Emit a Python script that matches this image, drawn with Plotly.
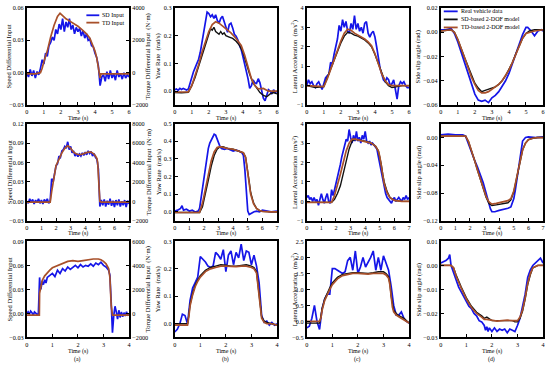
import numpy as np
import plotly.graph_objects as go

# ---------------- DATA ----------------
# Row 1 (0-6 s)
t_r1 = np.round(np.arange(0, 6.001, 0.1), 2)
a1_sd = [0.000, -0.004, 0.003, -0.003, 0.002, -0.005, 0.001, -0.002, 0.004, 0.012,
         0.008, 0.018, 0.015, 0.025, 0.028, 0.033, 0.030, 0.040, 0.036, 0.045,
         0.040, 0.050, 0.038, 0.047, 0.042, 0.050, 0.040, 0.044, 0.036, 0.042,
         0.038, 0.041, 0.034, 0.039, 0.032, 0.036, 0.030, 0.031, 0.025, 0.024,
         0.018, 0.014, 0.006, -0.012, -0.004, -0.002, -0.008, 0.001, -0.006, 0.002,
         -0.005, -0.001, -0.007, 0.002, -0.004, -0.001, -0.006, 0.000, -0.005, -0.002, -0.004]
t_a1_td = [0, 0.5, 0.8, 0.9, 1.0, 1.2, 1.4, 1.6, 1.8, 1.95, 2.1, 2.3, 2.5, 2.8, 3.0, 3.3, 3.5, 3.7,
           3.8, 3.9, 4.0, 4.1, 4.2, 4.25, 4.3, 4.35, 4.5, 5.0, 5.5, 6.0]
a1_td = [-70, -70, 0, 270, 670, 1330, 2200, 2930, 3470, 3670, 3530, 3330, 3200, 3000, 2870, 2600,
         2400, 2130, 1870, 1600, 1330, 930, 400, 0, -330, -70, -70, -70, -70, -70]

b1_real = [0.005, 0.008, 0.003, 0.010, 0.006, 0.010, 0.007, 0.004, 0.008, 0.030,
           0.050, 0.070, 0.085, 0.100, 0.115, 0.140, 0.175, 0.215, 0.255, 0.285,
           0.280, 0.268, 0.275, 0.262, 0.275, 0.255, 0.245, 0.262, 0.270, 0.248,
           0.228, 0.212, 0.240, 0.245, 0.228, 0.205, 0.198, 0.185, 0.165, 0.150,
           0.125, 0.100, 0.075, 0.045, 0.010, 0.020, 0.040, 0.030, 0.028, 0.045,
           0.030, 0.000, -0.025, -0.035, -0.015, 0.005, 0.000, -0.010, 0.005, -0.005, 0.000]
t_b1_sd = [0, 0.4, 0.8, 1.0, 1.2, 1.4, 1.6, 1.8, 2.0, 2.1, 2.2, 2.3, 2.4, 2.5, 2.6, 2.7, 2.8, 2.9,
           3.0, 3.2, 3.4, 3.6, 3.8, 4.0, 4.2, 4.4, 4.6, 4.8, 5.0, 5.2, 5.4, 5.6, 5.8, 6.0]
b1_sd = [-0.005, -0.006, -0.004, 0.02, 0.05, 0.09, 0.13, 0.17, 0.205, 0.225, 0.22, 0.23, 0.215,
         0.21, 0.205, 0.215, 0.205, 0.21, 0.20, 0.195, 0.19, 0.18, 0.165, 0.14, 0.10, 0.06, 0.03,
         0.01, -0.005, -0.015, -0.02, -0.01, -0.005, -0.01]
t_b1_td = [0, 0.8, 1.0, 1.2, 1.4, 1.6, 1.8, 2.0, 2.2, 2.4, 2.6, 2.8, 3.0, 3.3, 3.6, 3.9, 4.1, 4.3,
           4.5, 4.7, 4.9, 5.2, 5.5, 6.0]
b1_td = [-0.003, -0.003, 0.02, 0.055, 0.095, 0.14, 0.18, 0.215, 0.24, 0.25, 0.245, 0.235, 0.225,
         0.21, 0.19, 0.165, 0.13, 0.085, 0.045, 0.02, 0.008, 0.01, 0.0, 0.0]

c1_real = [0.0, 0.3, 0.1, 0.2, 0.0, -0.1, 0.1, 0.2, 0.0, -0.2,
           0.1, 0.4, 0.5, 0.6, 1.2, 1.1, 1.6, 2.0, 2.4, 3.1,
           2.8, 3.4, 3.0, 3.3, 2.8, 2.7, 3.2, 2.9, 3.6, 2.9,
           3.2, 2.8, 3.0, 2.7, 3.2, 3.3, 2.7, 2.5, 2.7, 2.8,
           2.5, 2.0, 1.4, 0.9, 0.6, 0.3, 0.2, 0.4, 0.3, 0.0,
           0.1, 0.3, -0.2, -0.7, 0.0, 0.2, 0.1, 0.2, 0.0, -0.1, -0.1]
t_c1_sd = [0, 0.5, 1.0, 1.2, 1.4, 1.6, 1.8, 2.0, 2.2, 2.4, 2.6, 2.8, 3.0, 3.2, 3.4, 3.6, 3.8, 4.0,
           4.2, 4.4, 4.6, 4.8, 5.0, 5.3, 5.6, 6.0]
c1_sd = [0.0, -0.1, -0.05, 0.4, 0.8, 1.3, 1.8, 2.2, 2.55, 2.75, 2.7, 2.6, 2.55, 2.45, 2.35, 2.2,
         2.0, 1.6, 1.1, 0.6, 0.2, 0.0, -0.1, -0.05, 0.0, 0.0]
t_c1_td = [0, 1.0, 1.2, 1.4, 1.6, 1.8, 2.0, 2.2, 2.4, 2.6, 2.8, 3.0, 3.2, 3.4, 3.6, 3.8, 4.0, 4.2,
           4.4, 4.6, 4.8, 5.0, 5.5, 6.0]
c1_td = [0.0, -0.05, 0.35, 0.8, 1.3, 1.8, 2.3, 2.7, 2.9, 2.85, 2.7, 2.6, 2.5, 2.4, 2.25, 2.05,
         1.65, 1.15, 0.6, 0.25, 0.05, 0.0, 0.0, 0.0]

t_d1_real = [0, 0.3, 0.6, 0.8, 1.0, 1.2, 1.4, 1.6, 1.8, 2.0, 2.2, 2.4, 2.6, 2.8, 3.0, 3.2, 3.4,
             3.6, 3.8, 4.0, 4.2, 4.4, 4.6, 4.8, 5.0, 5.1, 5.3, 5.5, 5.7, 5.9, 6.0]
d1_real = [0.002, 0.002, 0.003, -0.001, -0.008, -0.017, -0.026, -0.035, -0.044, -0.051, -0.056,
           -0.057, -0.056, -0.058, -0.054, -0.052, -0.049, -0.045, -0.040, -0.034, -0.026, -0.018,
           -0.010, -0.002, 0.004, 0.004, 0.001, -0.003, 0.001, 0.002, 0.001]
t_d1_model = [0, 0.6, 0.8, 1.0, 1.4, 1.8, 2.0, 2.2, 2.4, 2.6, 2.8, 3.0, 3.2, 3.4, 3.6, 3.8, 4.0,
              4.2, 4.4, 4.6, 4.8, 5.0, 5.2, 5.5, 6.0]
d1_sd = [0.001, 0.002, 0.0, -0.006, -0.021, -0.036, -0.042, -0.046, -0.049, -0.048, -0.047,
         -0.046, -0.045, -0.043, -0.040, -0.036, -0.031, -0.025, -0.018, -0.011, -0.005, -0.001,
         0.001, 0.002, 0.002]
d1_td = [0.001, 0.002, 0.0, -0.006, -0.021, -0.037, -0.043, -0.048, -0.050, -0.050, -0.049,
         -0.047, -0.045, -0.043, -0.040, -0.036, -0.031, -0.025, -0.018, -0.011, -0.005, -0.001,
         0.0, 0.001, 0.002]

# Row 2 (0-7 s)
t_r2 = np.round(np.arange(0, 7.001, 0.1), 2)
a2_sd = [0.000, -0.003, 0.004, -0.002, 0.003, -0.004, 0.002, -0.002, 0.004, -0.003,
         0.002, -0.004, 0.003, -0.002, 0.004, -0.003, 0.001, 0.035, 0.030, 0.045,
         0.055, 0.058, 0.070, 0.068, 0.078, 0.080, 0.085, 0.082, 0.092, 0.080,
         0.085, 0.075, 0.078, 0.070, 0.074, 0.069, 0.073, 0.070, 0.075, 0.071,
         0.076, 0.072, 0.078, 0.074, 0.077, 0.070, 0.074, 0.068, 0.065, 0.050,
         -0.008, 0.002, -0.006, 0.003, -0.008, 0.001, -0.005, 0.004, -0.007, 0.001,
         -0.009, 0.002, -0.006, 0.003, -0.008, 0.000, -0.006, 0.002, -0.009, 0.001, -0.004]
t_a2_td = [0, 1.6, 1.7, 1.8, 1.9, 2.0, 2.2, 2.4, 2.6, 2.8, 3.0, 3.2, 3.4, 3.6, 3.8, 4.0, 4.2, 4.4,
           4.6, 4.7, 4.8, 4.85, 4.9, 4.95, 5.0, 5.1, 6.0, 7.0]
a2_td = [-70, -70, 1000, 2000, 3000, 3670, 4330, 5000, 5470, 5730, 5470, 5070, 4870, 4800, 4870,
         5000, 5070, 5070, 4870, 4670, 4400, 4000, 2670, 1000, 0, -70, -70, -70]

t_b2_real = [0, 0.2, 0.4, 0.5, 0.6, 0.8, 1.0, 1.2, 1.4, 1.6, 1.7, 1.8, 1.9, 2.0, 2.1, 2.2, 2.3,
             2.4, 2.5, 2.6, 2.7, 2.8, 2.9, 3.0, 3.1, 3.2, 3.4, 3.6, 3.8, 4.0, 4.2, 4.4, 4.6, 4.7,
             4.8, 4.9, 5.0, 5.1, 5.2, 5.4, 5.6, 5.8, 6.0, 6.3, 6.6, 7.0]
b2_real = [0.005, 0.01, 0.02, 0.035, 0.01, 0.015, 0.005, 0.01, 0.0, 0.005, 0.02, 0.08, 0.14,
           0.20, 0.26, 0.31, 0.36, 0.39, 0.41, 0.43, 0.44, 0.435, 0.41, 0.39, 0.37, 0.36, 0.355,
           0.36, 0.35, 0.345, 0.35, 0.345, 0.335, 0.32, 0.24, 0.115, 0.005, -0.015, -0.01, 0.0,
           0.005, 0.0, 0.01, 0.005, 0.0, 0.005]
t_b2_model = [0, 1.7, 1.9, 2.1, 2.3, 2.5, 2.7, 2.9, 3.1, 3.3, 3.6, 4.0, 4.4, 4.7, 4.85, 5.0, 5.1,
              5.2, 5.4, 5.6, 5.8, 6.0, 6.5, 7.0]
b2_sd = [-0.003, -0.003, 0.03, 0.10, 0.18, 0.26, 0.32, 0.355, 0.37, 0.37, 0.36, 0.355, 0.345,
         0.335, 0.31, 0.24, 0.17, 0.11, 0.05, 0.02, 0.008, 0.003, 0.0, 0.0]
b2_td = [-0.003, -0.003, 0.05, 0.13, 0.21, 0.29, 0.34, 0.365, 0.37, 0.365, 0.36, 0.355, 0.345,
         0.335, 0.31, 0.22, 0.15, 0.10, 0.045, 0.02, 0.008, 0.003, 0.0, 0.0]

c2_real = [0.2, 0.3, 0.1, 0.2, 0.0, 0.2, 0.0, 0.1, -0.2, 0.1,
           0.4, 0.1, -0.1, 0.2, 0.4, 0.0, -0.1, 0.6, 0.3, 0.6,
           0.9, 1.3, 1.5, 1.9, 2.3, 2.6, 2.9, 3.2, 3.1, 3.7,
           3.3, 3.0, 3.4, 3.1, 3.6, 3.1, 3.3, 3.0, 3.4, 3.2,
           3.6, 3.1, 3.0, 3.1, 2.9, 3.0, 2.9, 2.8, 2.7, 2.3,
           1.9, 1.4, 1.0, 0.7, 0.4, 0.2, 0.1, 0.0, -0.1, 0.1,
           0.2, 0.0, 0.1, 0.2, 0.1, 0.0, 0.2, 0.1, 0.3, 0.1, 0.2]
t_c2_model = [0, 1.7, 1.9, 2.1, 2.3, 2.5, 2.7, 2.9, 3.1, 3.3, 3.6, 4.0, 4.4, 4.7, 4.9, 5.0, 5.1,
              5.2, 5.3, 5.5, 5.7, 6.0, 6.5, 7.0]
c2_sd = [-0.05, -0.05, 0.1, 0.4, 0.8, 1.4, 2.1, 2.7, 3.1, 3.2, 3.15, 3.1, 3.0, 2.85, 2.6, 2.3,
         1.9, 1.4, 1.0, 0.5, 0.2, 0.05, 0.0, 0.0]
c2_td = [-0.05, -0.05, 0.3, 0.8, 1.4, 2.0, 2.6, 3.0, 3.2, 3.2, 3.15, 3.1, 3.0, 2.85, 2.6, 2.3,
         1.8, 1.3, 0.9, 0.45, 0.18, 0.05, 0.0, 0.0]

t_d2_real = [0, 0.5, 1.0, 1.5, 1.7, 1.9, 2.1, 2.3, 2.5, 2.7, 2.9, 3.1, 3.3, 3.4, 3.5, 3.7, 4.0,
             4.3, 4.6, 4.8, 4.9, 5.0, 5.1, 5.2, 5.3, 5.4, 5.5, 5.6, 5.8, 6.0, 6.5, 7.0]
d2_real = [0.004, 0.005, 0.004, 0.004, 0.002, -0.01, -0.021, -0.032, -0.042, -0.053, -0.065,
           -0.080, -0.096, -0.103, -0.107, -0.107, -0.105, -0.104, -0.102, -0.100, -0.095,
           -0.088, -0.076, -0.062, -0.045, -0.028, -0.013, -0.005, 0.0, 0.001, 0.0, 0.001]
t_d2_model = [0, 1.7, 1.9, 2.1, 2.3, 2.5, 2.7, 2.9, 3.1, 3.3, 3.5, 3.8, 4.2, 4.6, 4.8, 5.0, 5.2,
              5.4, 5.6, 5.8, 6.0, 6.3, 6.6, 7.0]
d2_sd = [0.002, 0.002, -0.006, -0.018, -0.032, -0.046, -0.060, -0.074, -0.086, -0.095, -0.098,
         -0.097, -0.096, -0.094, -0.090, -0.078, -0.058, -0.036, -0.018, -0.008, -0.003, -0.001,
         0.0, 0.0]
d2_td = [0.002, 0.002, -0.006, -0.018, -0.032, -0.046, -0.060, -0.073, -0.085, -0.093, -0.096,
         -0.095, -0.093, -0.091, -0.088, -0.077, -0.057, -0.035, -0.018, -0.008, -0.003, -0.001,
         0.0, 0.0]

# Row 3 (0-4 s)
t_a3_sd = [0, 0.05, 0.1, 0.15, 0.2, 0.25, 0.3, 0.35, 0.4, 0.45, 0.5, 0.52, 0.55, 0.6, 0.65, 0.7,
           0.75, 0.8, 0.9, 1.0, 1.1, 1.2, 1.3, 1.4, 1.5, 1.6, 1.7, 1.8, 1.9, 2.0, 2.1, 2.2, 2.3,
           2.4, 2.5, 2.6, 2.7, 2.8, 2.9, 3.0, 3.1, 3.2, 3.25, 3.3, 3.35, 3.4, 3.45, 3.5, 3.55,
           3.6, 3.65, 3.7, 3.75, 3.8, 3.85, 3.9, 3.95, 4.0]
a3_sd = [0.0, 0.002, -0.001, 0.003, 0.001, -0.002, 0.002, 0.0, -0.001, -0.002,
         0.045, 0.035, 0.030, 0.040, 0.036, 0.042, 0.038, 0.045, 0.047, 0.050,
         0.046, 0.054, 0.050, 0.056, 0.053, 0.058, 0.055, 0.057, 0.060, 0.057,
         0.061, 0.058, 0.060, 0.059, 0.062, 0.059, 0.063, 0.061, 0.064, 0.060,
         0.058, 0.054, 0.048, 0.015, -0.024, -0.003, 0.009, 0.002, -0.007, 0.004,
         -0.005, 0.002, -0.004, 0.001, -0.003, 0.002, -0.002, -0.001]
t_a3_td = [0, 0.49, 0.5, 0.55, 0.6, 0.7, 0.8, 0.9, 1.0, 1.2, 1.4, 1.6, 1.8, 2.0, 2.2, 2.4, 2.6,
           2.8, 2.9, 3.0, 3.1, 3.2, 3.25, 3.3, 3.35, 3.5, 4.0]
a3_td = [-133, -133, 1667, 2400, 2733, 3133, 3400, 3600, 3800, 4000, 4200, 4333, 4400, 4333,
         4400, 4467, 4533, 4533, 4467, 4333, 4133, 3733, 3000, 667, -133, -133, -133]

t_r3 = np.round(np.arange(0, 4.001, 0.1), 2)
b3_real = [-0.03, -0.02, 0.0, 0.035, 0.03, 0.0, 0.085, 0.13, 0.15, 0.17,
           0.245, 0.235, 0.225, 0.21, 0.205, 0.21, 0.26, 0.25, 0.235, 0.27,
           0.19, 0.25, 0.265, 0.215, 0.26, 0.24, 0.29, 0.23, 0.265, 0.26,
           0.215, 0.25, 0.21, 0.15, 0.03, 0.005, 0.01, -0.005, 0.005, -0.005, 0.0]
t_r3_model = [0, 0.5, 0.55, 0.6, 0.7, 0.8, 0.9, 1.0, 1.2, 1.4, 1.6, 1.8, 2.0, 2.2, 2.4, 2.6,
              2.8, 3.0, 3.1, 3.2, 3.25, 3.3, 3.35, 3.4, 3.5, 3.6, 3.8, 4.0]
b3_sd = [0.0, 0.0, 0.03, 0.07, 0.11, 0.14, 0.16, 0.175, 0.195, 0.205, 0.21, 0.215, 0.213, 0.21,
         0.21, 0.213, 0.215, 0.21, 0.205, 0.19, 0.15, 0.09, 0.05, 0.025, 0.01, 0.005, 0.0, -0.005]
b3_td = [-0.005, -0.005, 0.025, 0.065, 0.105, 0.135, 0.155, 0.17, 0.19, 0.2, 0.205, 0.21, 0.21,
         0.208, 0.208, 0.21, 0.21, 0.205, 0.2, 0.185, 0.145, 0.085, 0.045, 0.02, 0.005, 0.0, 0.0,
         -0.005]

c3_real = [-0.2, -0.15, 0.1, 0.5, 0.0, -0.25, 0.4, 0.7, 0.85, 0.85,
           1.65, 1.65, 1.6, 1.55, 1.5, 1.55, 1.9, 2.0, 1.6, 2.2,
           1.5, 1.7, 2.0, 1.7, 1.85, 2.0, 2.2, 1.6, 2.0, 1.6,
           2.05, 1.8, 1.6, 1.1, 0.5, 0.2, 0.2, 0.3, 0.1, 0.0, -0.05]
c3_sd = [-0.05, -0.05, 0.15, 0.4, 0.7, 0.9, 1.05, 1.2, 1.38, 1.47, 1.5, 1.52, 1.52, 1.5, 1.5,
         1.52, 1.55, 1.55, 1.5, 1.4, 1.2, 0.8, 0.5, 0.35, 0.25, 0.18, 0.1, -0.05]
c3_td = [0.0, 0.0, 0.1, 0.35, 0.65, 0.85, 1.0, 1.15, 1.33, 1.43, 1.47, 1.5, 1.5, 1.48, 1.48,
         1.5, 1.5, 1.5, 1.45, 1.35, 1.15, 0.75, 0.45, 0.3, 0.2, 0.15, 0.05, -0.05]

t_d3_real = [0, 0.1, 0.2, 0.3, 0.35, 0.4, 0.5, 0.6, 0.7, 0.8, 0.9, 1.0, 1.1, 1.2, 1.3, 1.4, 1.5,
             1.6, 1.7, 1.75, 1.8, 1.85, 1.9, 2.0, 2.1, 2.2, 2.3, 2.4, 2.5, 2.6, 2.7, 2.8, 2.9,
             3.0, 3.1, 3.2, 3.3, 3.4, 3.5, 3.6, 3.7, 3.8, 3.9, 4.0]
d3_real = [0.001, 0.0015, 0.002, 0.003, 0.0045, 0.0, -0.003, -0.006, -0.009, -0.011,
           -0.013, -0.015, -0.017, -0.018, -0.02, -0.021, -0.023, -0.0235, -0.025, -0.027,
           -0.0255, -0.0275, -0.026, -0.0275, -0.026, -0.0275, -0.0265, -0.027, -0.0265, -0.028,
           -0.0265, -0.027, -0.0275, -0.025, -0.022, -0.017, -0.012, -0.005, -0.002, 0.0,
           0.001, 0.002, 0.003, 0.001]
t_d3_model = [0, 0.4, 0.5, 0.6, 0.8, 1.0, 1.2, 1.4, 1.6, 1.7, 1.8, 2.0, 2.2, 2.4, 2.6, 2.8, 2.9,
              3.0, 3.1, 3.2, 3.3, 3.4, 3.5, 3.6, 3.8, 4.0]
d3_sd = [0.0, 0.0, -0.001, -0.004, -0.009, -0.0135, -0.017, -0.0195, -0.021, -0.022, -0.0215,
         -0.023, -0.023, -0.023, -0.0228, -0.023, -0.0235, -0.0235, -0.022, -0.019, -0.014,
         -0.008, -0.004, -0.001, 0.0, 0.0]
d3_td = [0.0, 0.0, -0.001, -0.0045, -0.0095, -0.014, -0.0175, -0.02, -0.0215, -0.0225,
         -0.0225, -0.023, -0.0232, -0.023, -0.0228, -0.023, -0.023, -0.023, -0.0215, -0.0185,
         -0.0135, -0.0075, -0.0035, -0.001, 0.0, 0.0]

# Axis settings
x_ranges = [[0, 6], [0, 7], [0, 4]]
y_left = [
    [[-0.03, 0.06], [-0.05, 0.3], [-1, 4], [-0.06, 0.02]],
    [[-0.03, 0.12], [-0.05, 0.5], [-1, 4], [-0.12, 0.02]],
    [[-0.03, 0.09], [-0.05, 0.3], [-0.5, 2.5], [-0.03, 0.01]],
]
y_ticks = [
    [[-0.03, 0.0, 0.03, 0.06], [0.0, 0.1, 0.2, 0.3], [-1, 0, 1, 2, 3, 4], [-0.06, -0.04, -0.02, 0.0, 0.02]],
    [[-0.03, 0.0, 0.03, 0.06, 0.09, 0.12], [0.0, 0.1, 0.2, 0.3, 0.4, 0.5], [-1, 0, 1, 2, 3, 4], [-0.12, -0.08, -0.04, 0.0]],
    [[-0.03, 0.0, 0.03, 0.06, 0.09], [0.0, 0.1, 0.2, 0.3], [-0.5, 0.0, 0.5, 1.0, 1.5, 2.0, 2.5], [-0.03, -0.02, -0.01, 0.0, 0.01]],
]
y_fmt = [[".2f", ".1f", "d", ".2f"], [".2f", ".1f", "d", ".2f"], [".2f", ".1f", ".1f", ".2f"]]
y_right = [[-2000, 4000], [-2000, 8000], [-2000, 6000]]
y_right_ticks = [[-2000, 0, 2000, 4000], [-2000, 0, 2000, 4000, 6000, 8000], [-2000, 0, 2000, 4000, 6000]]

y_titles = ["Speed Differential Input", "Yaw Rate  (rad/s)",
            "Lateral Acceleration  (m/s<sup>2</sup>)", "Side slip angle (rad)"]
right_title = "Torque Differential Input  (N·m)"
panel_tags = ["(a)", "(b)", "(c)", "(d)"]
legend_a = ["SD Input", "TD Input"]
legend_d = ["Real vehicle data", "SD-based 2-DOF model", "TD-based 2-DOF model"]

BLUE = "#1515e8"
BLACK = "#111111"
BROWN = "#a8502a"

# ---------------- FIGURE ----------------
W, H = 550, 366
cols_px = [(25, 128), (174, 277), (307, 410), (442, 545)]
rows_px = [(4, 103), (122, 221), (242, 340)]
FONT = "Liberation Serif"

fig = go.Figure()

series = [
    [
        [(t_r1, a1_sd, BLUE, "y"), (t_a1_td, a1_td, BROWN, "y2")],
        [(t_r1, b1_real, BLUE, "y"), (t_b1_sd, b1_sd, BLACK, "y"), (t_b1_td, b1_td, BROWN, "y")],
        [(t_r1, c1_real, BLUE, "y"), (t_c1_sd, c1_sd, BLACK, "y"), (t_c1_td, c1_td, BROWN, "y")],
        [(t_d1_real, d1_real, BLUE, "y"), (t_d1_model, d1_sd, BLACK, "y"), (t_d1_model, d1_td, BROWN, "y")],
    ],
    [
        [(t_r2, a2_sd, BLUE, "y"), (t_a2_td, a2_td, BROWN, "y2")],
        [(t_b2_real, b2_real, BLUE, "y"), (t_b2_model, b2_sd, BLACK, "y"), (t_b2_model, b2_td, BROWN, "y")],
        [(t_r2, c2_real, BLUE, "y"), (t_c2_model, c2_sd, BLACK, "y"), (t_c2_model, c2_td, BROWN, "y")],
        [(t_d2_real, d2_real, BLUE, "y"), (t_d2_model, d2_sd, BLACK, "y"), (t_d2_model, d2_td, BROWN, "y")],
    ],
    [
        [(t_a3_sd, a3_sd, BLUE, "y"), (t_a3_td, a3_td, BROWN, "y2")],
        [(t_r3, b3_real, BLUE, "y"), (t_r3_model, b3_sd, BLACK, "y"), (t_r3_model, b3_td, BROWN, "y")],
        [(t_r3, c3_real, BLUE, "y"), (t_r3_model, c3_sd, BLACK, "y"), (t_r3_model, c3_td, BROWN, "y")],
        [(t_d3_real, d3_real, BLUE, "y"), (t_d3_model, d3_sd, BLACK, "y"), (t_d3_model, d3_td, BROWN, "y")],
    ],
]

axis_style = dict(showline=True, linecolor="black", linewidth=2, mirror=True, ticks="inside",
                  ticklen=3, tickwidth=1, tickcolor="black", showgrid=False, zeroline=False,
                  tickfont=dict(family=FONT, size=6.2, color="black"))

layout_axes = {}
for r in range(3):
    for c in range(4):
        n = r * 4 + c + 1
        x0, x1 = cols_px[c]
        y0, y1 = rows_px[r]
        xdom = [x0 / W, x1 / W]
        ydom = [1 - y1 / H, 1 - y0 / H]
        xname = "xaxis" if n == 1 else f"xaxis{n}"
        yname = "yaxis" if n == 1 else f"yaxis{n}"
        layout_axes[xname] = dict(domain=xdom, range=x_ranges[r], dtick=1, tick0=0,
                                  anchor=f"y{n}" if n > 1 else "y", **axis_style)
        layout_axes[yname] = dict(domain=ydom, range=y_left[r][c], tickvals=y_ticks[r][c],
                                  tickformat=y_fmt[r][c], anchor=f"x{n}" if n > 1 else "x",
                                  **axis_style)
        xref = "x" if n == 1 else f"x{n}"
        yref = "y" if n == 1 else f"y{n}"
        sec = 13 + r
        for (tx, vy, col, ax) in series[r][c]:
            width = 1.7 if col == BLUE else (1.4 if col == BLACK else 1.7)
            fig.add_trace(go.Scatter(x=tx, y=vy, mode="lines", showlegend=False,
                                     line=dict(color=col, width=width),
                                     xaxis=xref, yaxis=(yref if ax == "y" else f"y{sec}")))
        if c == 0:
            st = dict(axis_style)
            st.pop("mirror")
            layout_axes[f"yaxis{sec}"] = dict(domain=ydom, range=y_right[r], tickvals=y_right_ticks[r],
                                              overlaying=yref, side="right", anchor=xref, **st)

fig.update_layout(**layout_axes)

annotations = []
def ann(text, xp, yp, angle=0, size=6.3, xanchor="center"):
    annotations.append(dict(text=text, x=xp / W, y=1 - yp / H, xref="paper", yref="paper",
                            showarrow=False, textangle=angle, xanchor=xanchor, yanchor="middle",
                            borderpad=0, font=dict(family=FONT, size=size, color="black")))

time_y = [116.5, 233.5, 354]
title_x = [7, 158, 295, 420]
for r in range(3):
    yc = (rows_px[r][0] + rows_px[r][1]) / 2
    for c in range(4):
        xc = (cols_px[c][0] + cols_px[c][1]) / 2
        ann("Time (s)", xc, time_y[r], size=6.0)
        ann(y_titles[c], title_x[c], yc, angle=-90, size=6.6)
    ann(right_title, 148, yc, angle=-90, size=6.6)
for c in range(4):
    xc = (cols_px[c][0] + cols_px[c][1]) / 2
    ann(panel_tags[c], xc, 362.3, size=5.8)

shapes = []
def leg_line(x0, x1, yp, col):
    shapes.append(dict(type="line", xref="paper", yref="paper", x0=x0 / W, x1=x1 / W,
                       y0=1 - yp / H, y1=1 - yp / H, line=dict(color=col, width=1.8)))

for i, (lab, col) in enumerate(zip(legend_a, [BLUE, BROWN])):
    yp = 11.5 + i * 7.5
    leg_line(85, 98, yp, col)
    ann(lab, 100, yp, size=6.0, xanchor="left")
for i, (lab, col) in enumerate(zip(legend_d, [BLUE, BLACK, BROWN])):
    yp = 7.5 + i * 8.2
    leg_line(445, 459, yp, col)
    ann(lab, 461, yp, size=6.0, xanchor="left")

fig.update_layout(width=W, height=H, margin=dict(l=0, r=0, t=0, b=0),
                  paper_bgcolor="white", plot_bgcolor="white",
                  font=dict(family=FONT, size=7, color="black"),
                  annotations=annotations, shapes=shapes, showlegend=False)

fig.write_html("out.html", config={"displayModeBar": False},
               post_script="document.body.style.margin='0';document.body.style.padding='0';")
